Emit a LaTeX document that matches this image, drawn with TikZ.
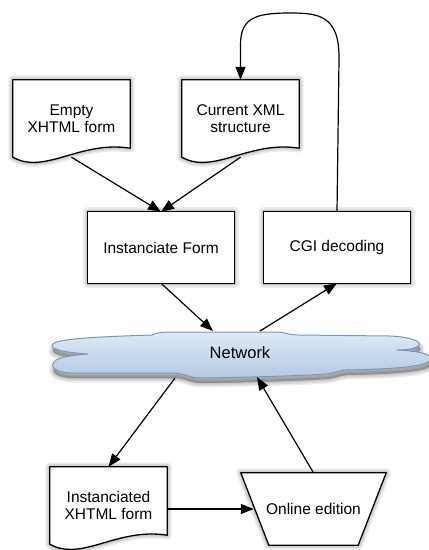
\documentclass[tikz,border=0pt]{standalone}
\usepackage{fontspec}
\setmainfont{Liberation Sans}
\usetikzlibrary{arrows.meta,calc,backgrounds}
\tikzset{
  lbl/.style={inner sep=0pt, align=center, font=\fontsize{15.5}{17.5}\selectfont},
  boxnode/.style={lbl, minimum width=146pt, minimum height=71pt},
  docnode/.style={lbl, minimum width=117pt, minimum height=77pt},
  outline/.style={draw=black, fill=white, line width=1.3pt, line join=round},
  conn/.style={line width=1.2pt, -{Triangle[length=13pt,width=10pt]}},
  shadowlayer/.style={fill=black, draw=black, opacity=0.08, line join=round, shift={(1,5)}},
  cloudstyle/.style={draw=cloudedge, line width=1pt, top color=cloudtop, bottom color=cloudbot}
}
\definecolor{cloudtop}{HTML}{DFEAF7}
\definecolor{cloudbot}{HTML}{B3C8E1}
\definecolor{cloudedge}{HTML}{7B96B6}
\newcommand\dropshade[1]{\foreach \w in {9,6,3,0.5}{\path[shadowlayer, line width=\w pt] #1;}}
\newcommand\docoutline[1]{(#1.north west) -- (#1.north east) -- ($(#1.south east)+(0,-9)$) .. controls ($(#1.south west)+(67,-17)$) and ($(#1.south west)+(32,18)$) .. (#1.south west) -- cycle}
\newcommand\cloudpath{(88,354) .. controls (70,353) and (50,350) .. (52,345)
 .. controls (54,339) and (90,337) .. (152,335)
 .. controls (156,333) and (162,332) .. (172,332)
 -- (278,332)
 .. controls (284,332) and (288,335) .. (298,335)
 -- (390,336)
 .. controls (410,337) and (421,341) .. (419,345)
 .. controls (417,349) and (405,350) .. (397,350)
 .. controls (418,351) and (432,354) .. (431,359)
 .. controls (430,366) and (400,369) .. (345,370)
 .. controls (338,371) and (334,373) .. (326,374)
 .. controls (300,376) and (220,378) .. (200,378)
 .. controls (190,378) and (186,374) .. (175,373)
 -- (70,373)
 .. controls (52,372) and (50,365) .. (55,361)
 .. controls (58,357) and (75,355) .. (88,354) -- cycle}
\begin{document}
\begin{tikzpicture}[x=1pt,y=-1pt]
\useasboundingbox (0,0) rectangle (429,550);
% nodes
\node[docnode] (emp) at (71.5,118.5) {Empty\\XHTML form};
\node[docnode] (cur) at (240.5,118.5) {Current XML\\structure};
\node[boxnode] (ins) at (161,247.5) {Instanciate Form};
\node[boxnode] (cgi) at (337,247.5) {CGI decoding};
\node[lbl, font=\fontsize{16.5}{18}\selectfont] (net) at (240,353) {Network};
\node[docnode] (xf) at (108.5,505.5) {Instanciated\\XHTML form};
\node[lbl, minimum width=145pt, minimum height=72pt] (onl) at (313.5,509) {Online edition};
\coordinate (na) at (213,331);
\coordinate (nb) at (260,331);
\coordinate (nc) at (175,378);
\coordinate (nd) at (257,377);
% backgrounds
\begin{scope}[on background layer]
  \dropshade{\docoutline{emp}}
  \dropshade{\docoutline{cur}}
  \dropshade{\docoutline{xf}}
  \dropshade{(ins.north west) rectangle (ins.south east)}
  \dropshade{(cgi.north west) rectangle (cgi.south east)}
  \dropshade{(onl.north west) -- (onl.north east) -- ($(onl.south east)+(-28,0)$) -- ($(onl.south west)+(28,0)$) -- cycle}
  \dropshade{\cloudpath}
  \path[outline] \docoutline{emp};
  \path[outline] \docoutline{cur};
  \path[outline] \docoutline{xf};
  \path[outline] (ins.north west) rectangle (ins.south east);
  \path[outline] (cgi.north west) rectangle (cgi.south east);
  \path[outline] (onl.north west) -- (onl.north east) -- ($(onl.south east)+(-28,0)$) -- ($(onl.south west)+(28,0)$) -- cycle;
  \path[cloudstyle] \cloudpath;
\end{scope}
% connectors
\draw[conn] (emp.south) -- (ins.north);
\draw[conn] (cur.south) -- (ins.north);
\draw[conn] (ins.south) -- (na);
\draw[conn] (nb) -- (cgi.south);
\draw[conn] (cgi.north) -- (339,60) .. controls (340,15) and (318,13) .. (290,13) .. controls (255,13) and (240.5,18) .. (240.5,45) -- (cur.north);
\draw[conn] (nc) -- (xf.north);
\draw[conn] (xf.east |- onl.west) -- ($(onl.west)+(13,0)$);
\draw[conn] (onl.north) -- (nd);
\end{tikzpicture}
\end{document}
